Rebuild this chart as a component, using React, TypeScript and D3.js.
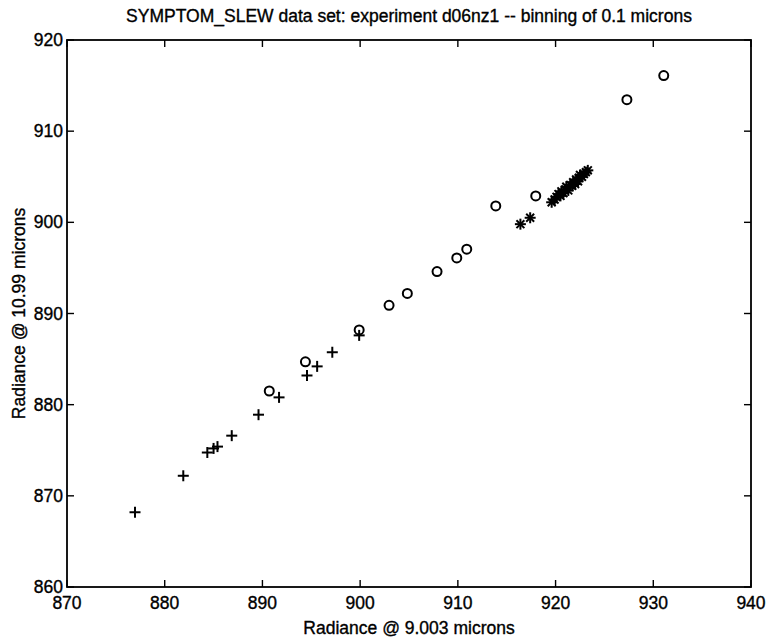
import React from "react";
import * as d3 from "d3";

const TITLE = "SYMPTOM_SLEW data set: experiment d06nz1 -- binning of 0.1 microns";
const X_LABEL = "Radiance @ 9.003 microns";
const Y_LABEL = "Radiance @ 10.99 microns";
const X_TICKS = [870, 880, 890, 900, 910, 920, 930, 940];
const Y_TICKS = [860, 870, 880, 890, 900, 910, 920];

const plusX = [876.96, 881.9, 884.36, 885.0, 885.4, 886.86, 889.6, 891.7, 894.56, 895.6, 897.15, 899.9];
const plusY = [868.2, 872.2, 874.75, 875.2, 875.4, 876.6, 878.9, 880.8, 883.2, 884.2, 885.75, 887.6];

const circleX = [890.7, 894.4, 899.9, 902.96, 904.83, 907.87, 909.89, 910.91, 913.88, 917.97, 927.3, 931.07];
const circleY = [881.5, 884.7, 888.2, 890.9, 892.2, 894.6, 896.1, 897.05, 901.8, 902.9, 913.45, 916.1];

const starX = [916.4, 917.4, 919.6, 919.9, 920.1, 920.3, 920.5, 920.6, 920.8, 921.0, 921.1, 921.3, 921.5, 921.7, 921.8, 922.0, 922.1, 922.3, 922.4, 922.5, 922.7, 922.9, 923.1, 923.3];
const starY = [899.8, 900.5, 902.2, 902.5, 902.8, 903.1, 902.9, 903.4, 903.2, 903.6, 903.9, 903.5, 904.1, 904.0, 904.4, 904.2, 904.7, 904.5, 904.9, 905.2, 905.0, 905.3, 905.5, 905.7];

const W = 769;
const H = 639;
const M = { left: 67, right: 751, top: 40, bottom: 587 };
const FONT = "'Liberation Sans', Arial, Helvetica, sans-serif";
const FS = 17.5;

export default function App() {
  const x = d3.scaleLinear().domain([870, 940]).range([M.left, M.right]);
  const y = d3.scaleLinear().domain([860, 920]).range([M.bottom, M.top]);
  const tl = 7;
  const sw = 2;
  const textProps = { fontFamily: FONT, fontSize: FS, fill: "#000", stroke: "#000", strokeWidth: 0.35 };

  return (
    <svg width={W} height={H} style={{ position: "absolute", left: 0, top: 0, background: "#fff" }}>
      <rect x={0} y={0} width={W} height={H} fill="#fff" />
      <text x={(M.left + M.right) / 2} y={22} textAnchor="middle" {...textProps}>
        {TITLE}
      </text>
      <rect x={M.left} y={M.top} width={M.right - M.left} height={M.bottom - M.top} fill="none" stroke="#000" strokeWidth={1.8} />
      {X_TICKS.map((t) => (
        <g key={"xt" + t}>
          <line x1={x(t)} x2={x(t)} y1={M.bottom} y2={M.bottom - tl} stroke="#000" strokeWidth={1.4} />
          <line x1={x(t)} x2={x(t)} y1={M.top} y2={M.top + tl} stroke="#000" strokeWidth={1.4} />
          <text x={x(t)} y={M.bottom + 22} textAnchor="middle" {...textProps}>
            {t}
          </text>
        </g>
      ))}
      {Y_TICKS.map((t) => (
        <g key={"yt" + t}>
          <line x1={M.left} x2={M.left + tl} y1={y(t)} y2={y(t)} stroke="#000" strokeWidth={1.4} />
          <line x1={M.right} x2={M.right - tl} y1={y(t)} y2={y(t)} stroke="#000" strokeWidth={1.4} />
          <text x={M.left - 4} y={y(t) + 6} textAnchor="end" {...textProps}>
            {t}
          </text>
        </g>
      ))}
      <text x={(M.left + M.right) / 2} y={634} textAnchor="middle" {...textProps}>
        {X_LABEL}
      </text>
      <text transform={`translate(25, ${(M.top + M.bottom) / 2}) rotate(-90)`} textAnchor="middle" {...textProps}>
        {Y_LABEL}
      </text>
      {plusX.map((v, i) => {
        const cx = x(v);
        const cy = y(plusY[i]);
        const r = 5.5;
        return (
          <g key={"p" + i} stroke="#000" strokeWidth={sw}>
            <line x1={cx - r} x2={cx + r} y1={cy} y2={cy} />
            <line x1={cx} x2={cx} y1={cy - r} y2={cy + r} />
          </g>
        );
      })}
      {circleX.map((v, i) => (
        <circle key={"c" + i} cx={x(v)} cy={y(circleY[i])} r={4.5} fill="none" stroke="#000" strokeWidth={sw} />
      ))}
      {starX.map((v, i) => {
        const cx = x(v);
        const cy = y(starY[i]);
        const r = 5.5;
        const d = r * 0.72;
        return (
          <g key={"s" + i} stroke="#000" strokeWidth={sw}>
            <line x1={cx - r} x2={cx + r} y1={cy} y2={cy} />
            <line x1={cx} x2={cx} y1={cy - r} y2={cy + r} />
            <line x1={cx - d} x2={cx + d} y1={cy - d} y2={cy + d} />
            <line x1={cx - d} x2={cx + d} y1={cy + d} y2={cy - d} />
          </g>
        );
      })}
    </svg>
  );
}
